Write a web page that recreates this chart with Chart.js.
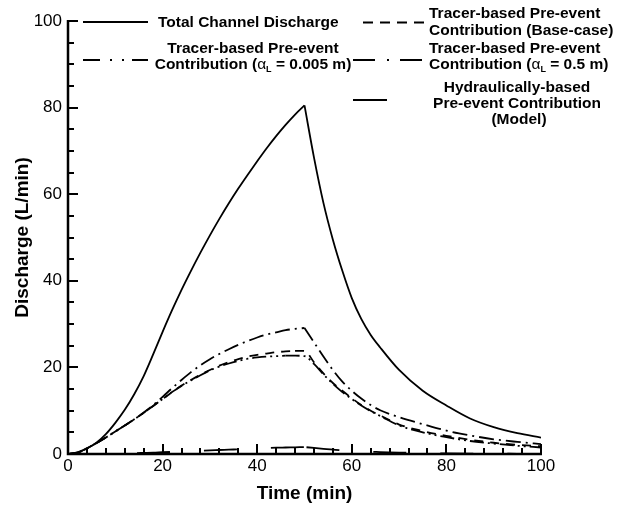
<!DOCTYPE html>
<html>
<head>
<meta charset="utf-8">
<script src="https://cdn.jsdelivr.net/npm/chart.js@4.4.1/dist/chart.umd.min.js"></script>
<style>
  html, body { margin: 0; padding: 0; background: #fff; }
  canvas { display: block; }
</style>
</head>
<body>
<canvas id="chart" width="618" height="508" style="width:618px;height:508px"></canvas>
<script>
// time (min)
const time = [0, 2, 4, 6, 8, 10, 12, 14, 16, 18, 20, 22, 24, 26, 28, 30, 32, 34, 36, 38, 40,
  42, 44, 46, 48, 50, 52, 54, 56, 58, 60, 62, 64, 66, 70, 75, 80, 85, 90, 95, 100];

// discharge (L/min)
const totalDischarge = [0, 0.4, 1.3, 2.6, 4.6, 7.2, 10.2, 13.8, 18, 23, 28.2, 33.2, 37.9, 42.3, 46.5, 50.5, 54.3, 57.9, 61.3, 64.5, 67.6,
  70.6, 73.4, 76.0, 78.4, 80.5, 68.5, 58, 49.5, 42.3, 36, 31.2, 27.5, 24.6, 19.4, 14.6, 11.2, 8.2, 6.2, 4.8, 3.8];
const tracerBaseCase = [0, 0.3, 1.3, 2.5, 3.8, 5.2, 6.6, 8.0, 9.5, 11.1, 12.7, 14.3, 15.8, 17.1, 18.3, 19.4, 20.4, 21.2, 21.9, 22.5, 22.9,
  23.2, 23.5, 23.7, 23.8, 23.8, 21.2, 18.6, 16.4, 14.6, 12.9, 11.3, 10.0, 8.9, 6.8, 5.3, 4.2, 3.3, 2.6, 2.1, 1.8];
const tracerAlpha0005 = [0, 0.3, 1.3, 2.5, 3.8, 5.2, 6.6, 8.0, 9.5, 11.1, 12.7, 14.3, 15.7, 17.0, 18.2, 19.3, 20.2, 20.9, 21.5, 22.0, 22.3,
  22.5, 22.6, 22.7, 22.7, 22.6, 20.8, 18.4, 16.2, 14.3, 12.7, 11.2, 9.9, 8.8, 6.6, 5.0, 3.9, 3.0, 2.4, 1.9, 1.5];
const tracerAlpha05 = [0, 0.3, 1.3, 2.5, 3.8, 5.2, 6.6, 8.0, 9.6, 11.3, 13.2, 15.2, 17.1, 18.9, 20.5, 21.9, 23.1, 24.2, 25.2, 26.1, 26.9,
  27.6, 28.1, 28.6, 28.9, 29.1, 25.8, 22.5, 19.4, 16.7, 14.6, 12.8, 11.3, 10.1, 8.5, 6.9, 5.4, 4.3, 3.4, 2.8, 2.3];
const hydraulicModel = [0, 0, 0, 0.02, 0.05, 0.1, 0.13, 0.2, 0.25, 0.3, 0.4, 0.48, 0.55, 0.65, 0.75, 0.85, 0.92, 1.0, 1.07, 1.15, 1.25,
  1.35, 1.45, 1.5, 1.55, 1.6, 1.4, 1.2, 1.0, 0.85, 0.7, 0.6, 0.5, 0.45, 0.32, 0.22, 0.15, 0.1, 0.07, 0.05, 0.04];

// axis ticks
const xTickStep = 20, xMinorStep = 4;
const yTickStep = 20, yMinorStep = 5;

const FONT = '"Liberation Sans", Arial, Helvetica, sans-serif';

function pts(ys) {
  return time.map((t, i) => ({ x: t, y: ys[i] }));
}

// rising and falling limbs drawn separately so the peak stays sharp
function series(label, ys, dash, dashOffset = 0) {
  const peak = ys.indexOf(Math.max(...ys));
  const all = pts(ys);
  const base = {
    label,
    borderColor: '#000',
    borderWidth: 1.8,
    borderDash: dash,
    borderDashOffset: dashOffset,
    pointRadius: 0,
    cubicInterpolationMode: 'monotone',
    fill: false
  };
  return [
    { ...base, data: all.slice(0, peak + 1) },
    { ...base, data: all.slice(peak) }
  ];
}

// inward ticks, left + bottom axis lines
const axisFrame = {
  id: 'axisFrame',
  afterDatasetsDraw(chart) {
    const { ctx, chartArea: a, scales: { x, y } } = chart;
    ctx.save();
    ctx.strokeStyle = '#000';
    ctx.lineCap = 'butt';
    ctx.lineWidth = 2;
    ctx.beginPath();
    for (let v = x.min; v <= x.max; v += xMinorStep) {
      const px = Math.round(x.getPixelForValue(v));
      const len = v % xTickStep === 0 ? 10 : 6;
      ctx.moveTo(px, a.bottom);
      ctx.lineTo(px, a.bottom - len);
    }
    for (let v = y.min; v <= y.max; v += yMinorStep) {
      const py = Math.round(y.getPixelForValue(v));
      const len = v % yTickStep === 0 ? 10 : 6;
      ctx.moveTo(a.left, py);
      ctx.lineTo(a.left + len, py);
    }
    ctx.stroke();
    ctx.lineWidth = 2.5;
    ctx.beginPath();
    ctx.moveTo(a.left, a.top - 1);
    ctx.lineTo(a.left, a.bottom);
    ctx.lineTo(a.right + 1, a.bottom);
    ctx.stroke();
    ctx.restore();
  }
};

// the figure's own legend
const BOLD = 'bold 15.5px ' + FONT;
const alphaPart = (rest) => [
  { t: 'Contribution (', f: BOLD },
  { t: '\u03b1', f: '15.5px ' + FONT },
  { t: 'L', f: 'bold 9px ' + FONT, dy: 3 },
  { t: rest, f: BOLD }
];

function drawRich(ctx, parts, x, y, align) {
  let w = 0;
  parts.forEach(p => { ctx.font = p.f; w += ctx.measureText(p.t).width; });
  let cx = align === 'center' ? x - w / 2 : x;
  parts.forEach(p => {
    ctx.font = p.f;
    ctx.fillText(p.t, cx, y + (p.dy || 0));
    cx += ctx.measureText(p.t).width;
  });
}

function sample(ctx, x0, x1, y, dash) {
  ctx.setLineDash(dash);
  ctx.beginPath();
  ctx.moveTo(x0, y);
  ctx.lineTo(x1, y);
  ctx.stroke();
  ctx.setLineDash([]);
}

const figureLegend = {
  id: 'figureLegend',
  afterDraw(chart) {
    const ctx = chart.ctx;
    ctx.save();
    ctx.fillStyle = '#000';
    ctx.strokeStyle = '#000';
    ctx.lineWidth = 1.8;
    ctx.textBaseline = 'alphabetic';
    ctx.textAlign = 'left';

    sample(ctx, 83, 148, 22, []);
    drawRich(ctx, [{ t: 'Total Channel Discharge', f: BOLD }], 158, 27, 'left');

    sample(ctx, 363, 424, 22.5, [10, 7]);
    drawRich(ctx, [{ t: 'Tracer-based Pre-event', f: BOLD }], 429, 18, 'left');
    drawRich(ctx, [{ t: 'Contribution (Base-case)', f: BOLD }], 429, 34.5, 'left');

    sample(ctx, 83, 148, 60, [17, 10, 2, 10, 2, 8]);
    drawRich(ctx, [{ t: 'Tracer-based Pre-event', f: BOLD }], 253, 52.5, 'center');
    drawRich(ctx, alphaPart(' = 0.005 m)'), 253, 68.5, 'center');

    sample(ctx, 353, 422, 60, [22, 12, 2, 11]);
    drawRich(ctx, [{ t: 'Tracer-based Pre-event', f: BOLD }], 429, 53, 'left');
    drawRich(ctx, alphaPart(' = 0.5 m)'), 429, 68.5, 'left');

    sample(ctx, 353, 387, 100, []);
    drawRich(ctx, [{ t: 'Hydraulically-based', f: BOLD }], 517, 91.5, 'center');
    drawRich(ctx, [{ t: 'Pre-event Contribution', f: BOLD }], 517, 107.5, 'center');
    drawRich(ctx, [{ t: '(Model)', f: BOLD }], 519, 123.5, 'center');
    ctx.restore();
  }
};

new Chart(document.getElementById('chart').getContext('2d'), {
  type: 'line',
  data: {
    datasets: [
      ...series('Total Channel Discharge', totalDischarge, []),
      ...series('Tracer-based Pre-event Contribution (Base-case)', tracerBaseCase, [9, 7]),
      ...series('Tracer-based Pre-event Contribution (alpha_L = 0.005 m)', tracerAlpha0005, [14, 4, 2, 4, 2, 4]),
      ...series('Tracer-based Pre-event Contribution (alpha_L = 0.5 m)', tracerAlpha05, [15, 5, 2, 5]),
      ...series('Hydraulically-based Pre-event Contribution (Model)', hydraulicModel, [33, 34], 65)
    ]
  },
  options: {
    responsive: false,
    animation: false,
    layout: { padding: { top: 21, right: 77, left: 0, bottom: 0 } },
    plugins: {
      legend: { display: false },
      tooltip: { enabled: false }
    },
    scales: {
      x: {
        type: 'linear',
        min: 0,
        max: 100,
        grid: { display: false, drawTicks: false },
        border: { display: false },
        ticks: { stepSize: xTickStep, padding: 2, maxRotation: 0, color: '#000', font: { family: FONT, size: 17 } },
        title: { display: true, text: 'Time (min)', color: '#000', font: { family: FONT, size: 19, weight: 'bold' }, padding: { top: 0, bottom: 3 } },
        afterFit(s) { s.height = 54; }
      },
      y: {
        min: 0,
        max: 100,
        grid: { display: false, drawTicks: false },
        border: { display: false },
        ticks: { stepSize: yTickStep, padding: 6, color: '#000', font: { family: FONT, size: 17 } },
        title: { display: true, text: 'Discharge (L/min)', color: '#000', font: { family: FONT, size: 19, weight: 'bold' }, padding: { top: 11, bottom: 0 } },
        afterFit(s) { s.width = 68; }
      }
    }
  },
  plugins: [axisFrame, figureLegend]
});
</script>
</body>
</html>
